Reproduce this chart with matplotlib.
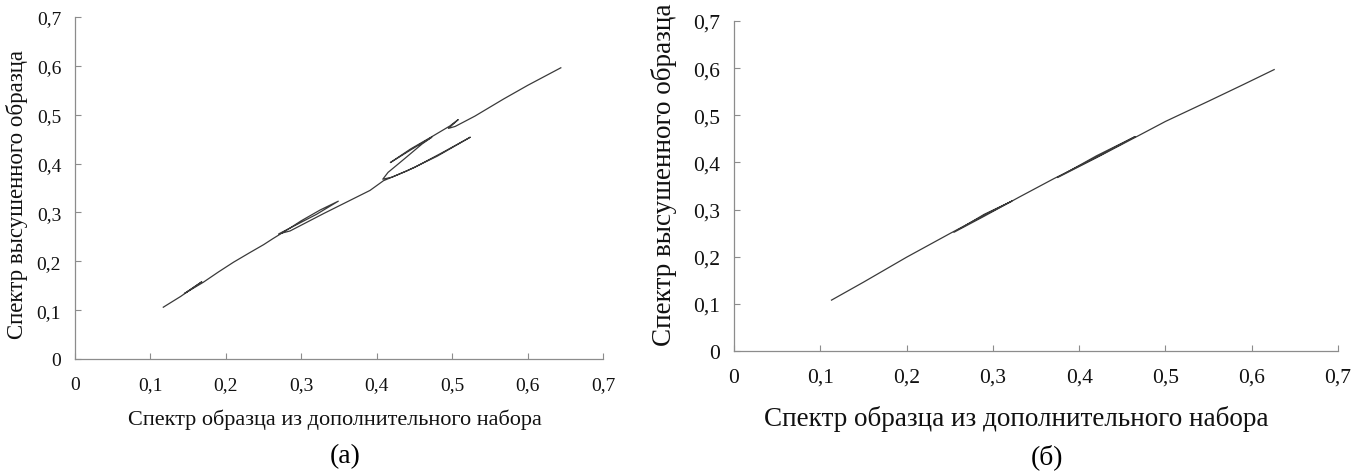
import matplotlib
matplotlib.use("Agg")
import matplotlib.pyplot as plt
from matplotlib.ticker import FuncFormatter, MultipleLocator

plt.rcParams['font.family'] = ['Liberation Serif', 'DejaVu Serif']

# (а) спектр высушенного образца против спектра из дополнительного набора
x_a = [0.117, 0.140, 0.168, 0.145, 0.170, 0.190, 0.210, 0.232, 0.250,
       0.262, 0.285, 0.300, 0.325, 0.349, 0.320, 0.290, 0.270, 0.285,
       0.330, 0.391, 0.409, 0.440, 0.480, 0.524, 0.490, 0.450, 0.420,
       0.408, 0.415, 0.426, 0.440, 0.460, 0.473, 0.445, 0.418, 0.445,
       0.473, 0.497, 0.508, 0.495, 0.504, 0.530, 0.568, 0.600, 0.644]
y_a = [0.106, 0.128, 0.158, 0.134, 0.157, 0.178, 0.198, 0.218, 0.234,
       0.246, 0.268, 0.283, 0.305, 0.323, 0.296, 0.272, 0.256, 0.262,
       0.298, 0.345, 0.365, 0.385, 0.415, 0.454, 0.425, 0.392, 0.372,
       0.368, 0.382, 0.396, 0.414, 0.440, 0.454, 0.428, 0.402, 0.430,
       0.455, 0.477, 0.490, 0.472, 0.476, 0.497, 0.532, 0.560, 0.596]

# (б) после коррекции
x_b = [0.113, 0.150, 0.200, 0.250, 0.290, 0.322, 0.290, 0.255, 0.290,
       0.330, 0.370, 0.420, 0.465, 0.420, 0.375, 0.420, 0.470, 0.500,
       0.550, 0.590, 0.626]
y_b = [0.108, 0.146, 0.199, 0.249, 0.288, 0.318, 0.290, 0.252, 0.286,
       0.326, 0.365, 0.411, 0.455, 0.414, 0.368, 0.410, 0.458, 0.487,
       0.530, 0.565, 0.597]

xlabel = 'Спектр образца из дополнительного набора'
ylabel = 'Спектр высушенного образца'


def comma(v, pos):
    if abs(v) < 1e-9:
        return '0'
    return ('%.1f' % v).replace('.', ',')


def setup(ax, xs, ys, tick_fs, xlabel_fs, ylabel_fs):
    ax.plot(xs, ys, color='#3a3a3a', lw=0.9)
    ax.set_xlim(0, 0.7)
    ax.set_ylim(0, 0.7)
    ax.xaxis.set_major_locator(MultipleLocator(0.1))
    ax.yaxis.set_major_locator(MultipleLocator(0.1))
    ax.xaxis.set_major_formatter(FuncFormatter(comma))
    ax.yaxis.set_major_formatter(FuncFormatter(comma))
    for s in ['top', 'right']:
        ax.spines[s].set_visible(False)
    for s in ['left', 'bottom']:
        ax.spines[s].set_color('#8c8c8c')
        ax.spines[s].set_linewidth(0.9)
    ax.tick_params(direction='in', length=4, width=0.8, color='#8c8c8c',
                   labelsize=tick_fs, labelcolor='#111111')
    ax.tick_params(axis='x', pad=12)
    ax.tick_params(axis='y', pad=10)
    ax.set_xlabel(xlabel, fontsize=xlabel_fs, color='#111111')
    ax.set_ylabel(ylabel, fontsize=ylabel_fs, color='#111111')


fig = plt.figure(figsize=(13.57, 4.77), dpi=100)
ax1 = fig.add_axes([0.0553, 0.2453, 0.3891, 0.717])
ax2 = fig.add_axes([0.5409, 0.2620, 0.4451, 0.6918])

setup(ax1, x_a, y_a, 14, 16, 16.5)
setup(ax2, x_b, y_b, 15.5, 19.5, 19.5)

ax1.xaxis.set_label_coords(0.492, -0.145)
ax1.yaxis.set_label_coords(-0.089, 0.485)
ax2.xaxis.set_label_coords(0.467, -0.165)
ax2.yaxis.set_label_coords(-0.094, 0.536)

fig.text(345 / 1357, 1 - 457 / 477, '(a)', fontsize=20, ha='center', va='center')
fig.text(1047 / 1357, 1 - 457 / 477, '(б)', fontsize=20, ha='center', va='center')

fig.savefig('out.png', dpi=100)
